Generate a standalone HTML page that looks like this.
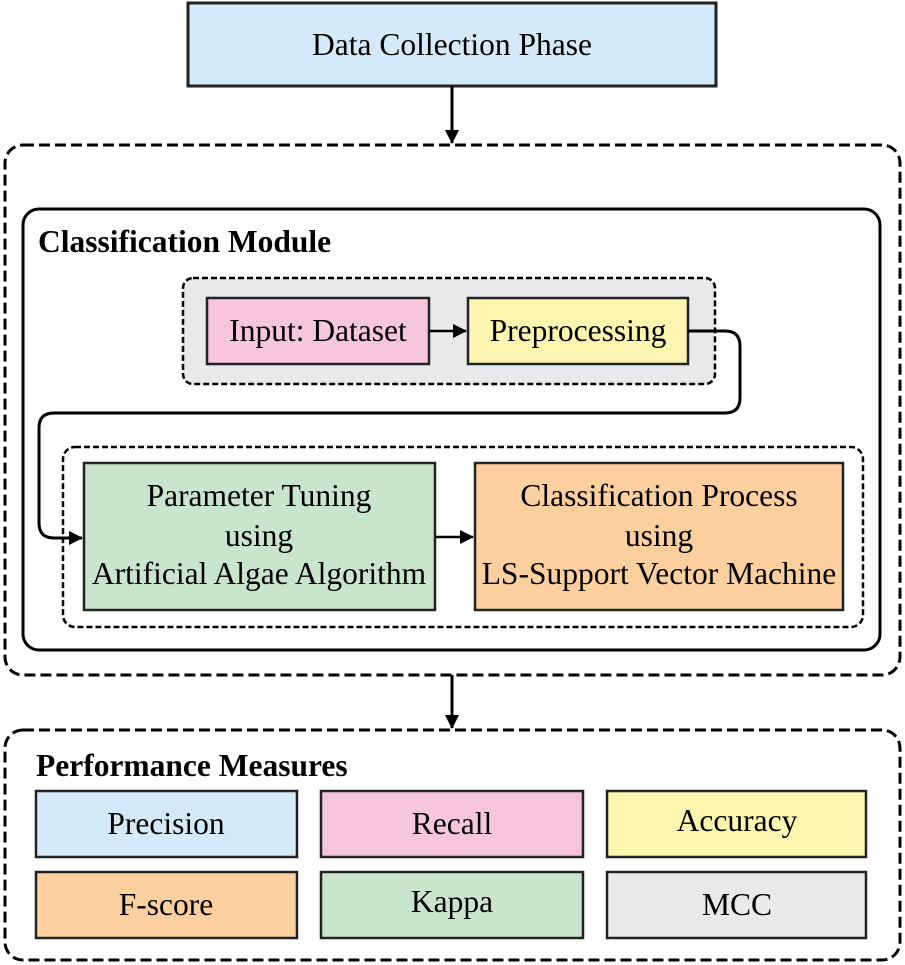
<!DOCTYPE html>
<html><head><style>html,body{margin:0;padding:0;background:#fff}svg{display:block}</style></head>
<body>
<svg width="905" height="965" xmlns="http://www.w3.org/2000/svg" font-family="'Liberation Serif', serif" font-size="31.5">
<defs><marker id="a" markerWidth="14" markerHeight="14" refX="13" refY="7" orient="auto" markerUnits="userSpaceOnUse"><path d="M0,0 L14,7 L0,14 z" fill="#000"/></marker></defs>
<rect x="188" y="3" width="528" height="83" fill="#d4eaf8" stroke="#222" stroke-width="3"/>
<text x="452" y="55" text-anchor="middle">Data Collection Phase</text>
<line x1="452" y1="86" x2="452" y2="143" stroke="#000" stroke-width="3" marker-end="url(#a)"/>
<rect x="5" y="145" width="895" height="530" rx="18" fill="none" stroke="#000" stroke-width="3" stroke-dasharray="11,5"/>
<rect x="23" y="209" width="857" height="441" rx="16" fill="none" stroke="#000" stroke-width="3"/>
<text x="38" y="252" font-weight="bold" font-size="31.5">Classification Module</text>
<rect x="183" y="278" width="532" height="106" rx="10" fill="#e8e9ea" stroke="#000" stroke-width="2.5" stroke-dasharray="6,3"/>
<rect x="207" y="298" width="222" height="66" fill="#f5c6dc" stroke="#222" stroke-width="2.5"/>
<text x="318" y="341" text-anchor="middle">Input: Dataset</text>
<line x1="429" y1="331" x2="466" y2="331" stroke="#000" stroke-width="2.5" marker-end="url(#a)"/>
<rect x="468" y="298" width="220" height="66" fill="#fbf5b0" stroke="#222" stroke-width="2.5"/>
<text x="578" y="341" text-anchor="middle">Preprocessing</text>
<path d="M688,331 L725,331 Q740,331 740,346 L740,398 Q740,413 725,413 L54,413 Q39,413 39,428 L39,523 Q39,538 54,538 L82,538" fill="none" stroke="#000" stroke-width="3" marker-end="url(#a)"/>
<rect x="63" y="447" width="800" height="180" rx="12" fill="none" stroke="#000" stroke-width="2.5" stroke-dasharray="6,3"/>
<rect x="84" y="463" width="351" height="147" fill="#c9e6cc" stroke="#222" stroke-width="2.5"/>
<text x="259" y="506" text-anchor="middle">Parameter Tuning</text>
<text x="259" y="546" text-anchor="middle">using</text>
<text x="259" y="584" text-anchor="middle">Artificial Algae Algorithm</text>
<line x1="435" y1="537" x2="473" y2="537" stroke="#000" stroke-width="2.5" marker-end="url(#a)"/>
<rect x="475" y="463" width="368" height="147" fill="#fccf9f" stroke="#222" stroke-width="2.5"/>
<text x="659" y="506" text-anchor="middle">Classification Process</text>
<text x="659" y="546" text-anchor="middle">using</text>
<text x="659" y="584" text-anchor="middle">LS-Support Vector Machine</text>
<line x1="452" y1="675" x2="452" y2="728" stroke="#000" stroke-width="3" marker-end="url(#a)"/>
<rect x="5" y="730" width="895" height="230" rx="18" fill="none" stroke="#000" stroke-width="3" stroke-dasharray="11,5"/>
<text x="36" y="776" font-weight="bold" font-size="31.5">Performance Measures</text>
<g stroke="#222" stroke-width="2.5">
<rect x="36" y="791" width="261" height="66" fill="#d4eaf8"/>
<rect x="321" y="791" width="262" height="66" fill="#f5c6dc"/>
<rect x="607" y="791" width="259" height="66" fill="#fbf5b0"/>
<rect x="36" y="872" width="261" height="66" fill="#fccf9f"/>
<rect x="321" y="872" width="262" height="66" fill="#c9e6cc"/>
<rect x="607" y="872" width="259" height="66" fill="#e8e9ea"/>
</g>
<g text-anchor="middle">
<text x="166" y="834">Precision</text>
<text x="452" y="834">Recall</text>
<text x="737" y="831">Accuracy</text>
<text x="166" y="915">F-score</text>
<text x="452" y="912">Kappa</text>
<text x="737" y="915">MCC</text>
</g>
</svg>
</body></html>
